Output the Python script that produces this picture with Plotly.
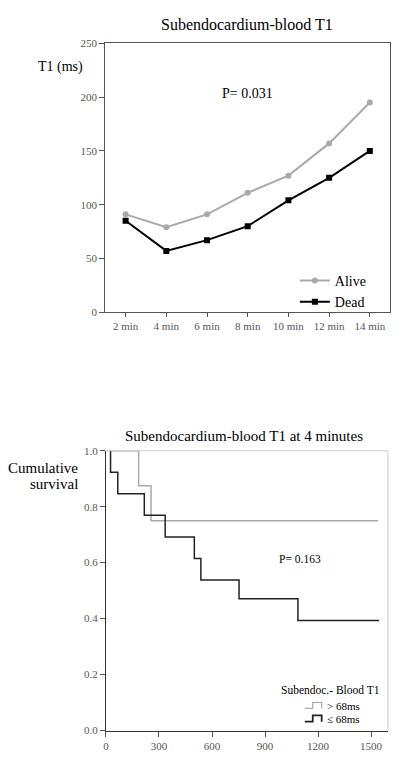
import plotly.graph_objects as go

# ---------------- data ----------------
minutes = ["2 min", "4 min", "6 min", "8 min", "10 min", "12 min", "14 min"]
alive_t1 = [91, 79, 91, 111, 127, 157, 195]
dead_t1 = [85, 57, 67, 80, 104, 125, 150]

# Kaplan-Meier steps (days, cumulative survival)
high_days = [22, 185, 255, 1540]
high_surv = [1.0, 0.875, 0.75, 0.75]
low_days = [22, 26, 67, 217, 335, 500, 537, 753, 1086, 1545]
low_surv = [1.0, 0.923, 0.846, 0.769, 0.692, 0.615, 0.538, 0.471, 0.393, 0.393]

t1_ticks = [0, 50, 100, 150, 200, 250]
surv_ticks = [0.0, 0.2, 0.4, 0.6, 0.8, 1.0]
day_ticks = [0, 300, 600, 900, 1200, 1500]

W, H = 414, 773
FONT = "Liberation Serif"


def PX(x):
    return x / W


def PY(y):
    return 1 - y / H


fig = go.Figure()

fig.add_trace(go.Scatter(
    x=minutes, y=alive_t1, name="Alive", mode="lines+markers",
    line=dict(color="#a9a9a9", width=2),
    marker=dict(symbol="circle", size=6, color="#a9a9a9"),
    xaxis="x", yaxis="y", legend="legend"))
fig.add_trace(go.Scatter(
    x=minutes, y=dead_t1, name="Dead", mode="lines+markers",
    line=dict(color="#000000", width=2),
    marker=dict(symbol="square", size=6, color="#000000"),
    xaxis="x", yaxis="y", legend="legend"))

fig.add_trace(go.Scatter(
    x=high_days, y=high_surv, name="> 68ms", mode="lines",
    line=dict(color="#a8a8a8", width=1.5, shape="hv"),
    xaxis="x2", yaxis="y2", showlegend=False))
fig.add_trace(go.Scatter(
    x=low_days, y=low_surv, name="≤ 68ms", mode="lines",
    line=dict(color="#222222", width=1.5, shape="hv"),
    xaxis="x2", yaxis="y2", showlegend=False))

axis_common = dict(showgrid=False, zeroline=False, showline=True,
                   ticks="outside", tickfont=dict(family=FONT, size=11, color="#555555"))

fig.update_layout(
    width=W, height=H,
    margin=dict(l=0, r=0, t=0, b=0),
    paper_bgcolor="white", plot_bgcolor="white",
    font=dict(family=FONT, color="#000000"),
    xaxis=dict(domain=[PX(103), PX(390)], range=[-0.5, 6.5], type="category",
               linecolor="#555555", mirror=True, linewidth=1, ticklen=4,
               tickcolor="#555555", anchor="y", **axis_common),
    yaxis=dict(domain=[PY(311), PY(38)], range=[0, 250], tickvals=t1_ticks,
               linecolor="#555555", mirror=True, linewidth=1, ticklen=5,
               tickcolor="#555555", anchor="x", **axis_common),
    xaxis2=dict(domain=[PX(103.7), PX(387.7)], range=[0, 1595], tickvals=day_ticks,
                linecolor="#333333", linewidth=1.2, ticklen=5, tickcolor="#555555",
                anchor="y2", **axis_common),
    yaxis2=dict(domain=[PY(736), PY(451.7)], range=[0, 1.0], tickvals=surv_ticks,
                tickformat=".1f", linecolor="#333333", linewidth=1.2, ticklen=5,
                tickcolor="#555555", anchor="x2", **axis_common),
    legend=dict(x=PX(294), y=PY(263), xanchor="left", yanchor="top",
                font=dict(family=FONT, size=14, color="#000000"),
                bgcolor="rgba(0,0,0,0)", itemwidth=30, tracegroupgap=0),
    showlegend=True,
)

# light grey frame (top and right) of the survival plot
fig.add_shape(type="line", xref="x2 domain", yref="y2 domain", x0=0, x1=1, y0=1, y1=1,
              line=dict(color="#cccccc", width=1))
fig.add_shape(type="line", xref="x2 domain", yref="y2 domain", x0=1, x1=1, y0=0, y1=1,
              line=dict(color="#cccccc", width=1))

ann = [
    dict(text="Subendocardium-blood T1", x=PX(245.7), y=PY(19), size=16),
    dict(text="T1 (ms)", x=PX(58), y=PY(62), size=14),
    dict(text="P= 0.031", x=PX(245.8), y=PY(89), size=14),
    dict(text="Subendocardium-blood T1 at 4 minutes", x=PX(242.7), y=PY(436.7), size=15),
    dict(text="P= 0.163", x=PX(299), y=PY(562), size=11.5),
    dict(text="Subendoc.- Blood T1", x=PX(330), y=PY(695), size=11.5),
]
for a in ann:
    fig.add_annotation(text=a["text"], x=a["x"], y=a["y"], xref="paper", yref="paper",
                       xanchor="center", yanchor="middle", showarrow=False,
                       font=dict(family=FONT, size=a["size"], color="#000000"))

for txt, yy in [("Cumulative", 469), ("survival", 486)]:
    fig.add_annotation(text=txt, x=PX(77.5), y=PY(yy), xref="paper", yref="paper",
                       xanchor="right", yanchor="middle", showarrow=False,
                       font=dict(family=FONT, size=15, color="#000000"))

# manual legend for the survival plot
for txt, yy, col, top, bot in [("&gt; 68ms", 711.5, "#a8a8a8", 707.5, 713.5),
                               ("≤ 68ms", 724, "#222222", 720.5, 727)]:
    fig.add_annotation(text=txt, x=PX(324.5), y=PY(yy), xref="paper", yref="paper",
                       xanchor="left", yanchor="middle", showarrow=False,
                       font=dict(family=FONT, size=11, color="#000000"))
    path = (f"M {PX(304)} {PY(bot)} L {PX(312)} {PY(bot)} L {PX(312)} {PY(top)} "
            f"L {PX(321)} {PY(top)} L {PX(321)} {PY(bot)}")
    fig.add_shape(type="path", xref="paper", yref="paper", path=path,
                  line=dict(color=col, width=1.8 if col == "#222222" else 1.2))

fig.write_html("out.html", config={"displayModeBar": False},
               post_script="document.body.style.margin='0px';document.body.style.overflow='hidden';")
